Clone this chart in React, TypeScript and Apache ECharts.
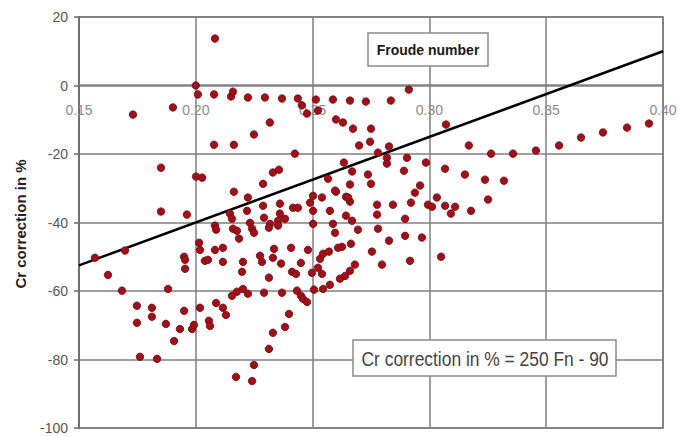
import React, { useEffect, useRef } from "react";
import * as echarts from "echarts";

const froude: number[] = [
  0.1731, 0.1902, 0.2, 0.2009, 0.2078, 0.2082, 0.2151, 0.2159, 0.2223, 0.2296,
  0.2369, 0.2437, 0.2454, 0.2476, 0.2514, 0.2523, 0.2587, 0.266, 0.2728, 0.2835,
  0.2912, 0.2317, 0.2249, 0.2078, 0.2163, 0.2424, 0.26, 0.263, 0.2673, 0.275,
  0.2699, 0.2746, 0.278, 0.2827, 0.2818, 0.2818, 0.2904, 0.2985, 0.2891, 0.3071,
  0.3067, 0.2634, 0.2669, 0.2737, 0.275, 0.233, 0.2356, 0.2288, 0.2566, 0.266,
  0.26, 0.2938, 0.296, 0.3032, 0.2163, 0.2223, 0.2502, 0.3169, 0.3264, 0.3358,
  0.3456, 0.3555, 0.3649, 0.3743, 0.3846, 0.394, 0.3152, 0.3238, 0.3319, 0.3251,
  0.2643, 0.266, 0.2776, 0.2844, 0.2921, 0.2994, 0.3011, 0.3067, 0.311, 0.3092,
  0.3178, 0.2776, 0.2643, 0.2669, 0.2896, 0.2694, 0.278, 0.2827, 0.2896, 0.2968,
  0.2626, 0.2664, 0.2754, 0.2797, 0.2917, 0.305, 0.2681, 0.266, 0.2639, 0.2617,
  0.2288, 0.236, 0.2416, 0.2437, 0.2489, 0.254, 0.2596, 0.2652, 0.2574, 0.2146,
  0.2155, 0.2219, 0.2292, 0.236, 0.2352, 0.2382, 0.2502, 0.2502, 0.2232, 0.2318,
  0.2082, 0.2587, 0.1851, 0.2001, 0.2027, 0.1851, 0.1962, 0.2087, 0.2014, 0.2018,
  0.2082, 0.195, 0.1954, 0.2039, 0.2052, 0.1954, 0.1568, 0.1697, 0.1624, 0.1684,
  0.1881, 0.1748, 0.1812, 0.1812, 0.1748, 0.195, 0.2018, 0.2087, 0.1872, 0.1932,
  0.1984, 0.1992, 0.2056, 0.2061, 0.1907, 0.1761, 0.1834, 0.2116, 0.2116, 0.2159,
  0.2176, 0.2185, 0.2241, 0.2249, 0.2313, 0.2352, 0.2596, 0.2202, 0.2198, 0.2275,
  0.2283, 0.2335, 0.233, 0.2408, 0.2365, 0.245, 0.248, 0.2412, 0.2429, 0.2313,
  0.2497, 0.2532, 0.2545, 0.257, 0.2609, 0.2523, 0.254, 0.2574, 0.2545, 0.2506,
  0.2155, 0.2176, 0.2202, 0.2223, 0.2292, 0.2369, 0.2433, 0.245, 0.2459, 0.2476,
  0.2116, 0.2129, 0.2399, 0.2382, 0.233, 0.2313, 0.2249, 0.2172, 0.2241,
];

const crCorrection: number[] = [
  -8.5, -6.4, 0, -2.6, -2.6, 13.7, -3.2, -1.8, -3.5, -3.5,
  -3.8, -3.8, -5.8, -8.2, -4.1, -7.3, -4.1, -4.4, -4.7, -4.4,
  -1.2, -10.8, -14.3, -17.3, -17.3, -19.9, -9.9, -10.8, -12.6, -12.6,
  -17.5, -16.4, -19.6, -17.8, -21.1, -22.8, -21.1, -22.5, -24.9, -11.4,
  -24.3, -22.5, -25.1, -26.0, -28.7, -25.4, -24.6, -28.7, -27.2, -28.9,
  -31.0, -31.3, -29.2, -32.7, -31.0, -32.7, -32.2, -17.5, -19.9, -19.9,
  -19.0, -17.5, -15.2, -13.7, -12.3, -11.1, -26.0, -27.5, -27.8, -33.3,
  -32.5, -33.9, -34.8, -34.8, -34.2, -34.8, -35.4, -35.1, -35.4, -37.4,
  -36.6, -37.7, -38.0, -39.5, -38.9, -42.1, -41.8, -45.3, -43.9, -44.4,
  -47.1, -46.2, -48.5, -52.3, -51.2, -50.0, -52.3, -54.1, -55.6, -56.4,
  -35.1, -34.5, -35.7, -35.7, -34.2, -32.7, -30.7, -32.7, -36.6, -37.4,
  -38.9, -36.6, -38.6, -37.4, -39.5, -38.9, -36.6, -40.4, -40.1, -40.4,
  -40.9, -40.4, -24.0, -26.6, -26.9, -36.8, -37.7, -42.1, -45.9, -48.0,
  -48.0, -50.0, -50.9, -51.2, -50.9, -53.5, -50.3, -48.2, -55.3, -59.9,
  -59.4, -64.3, -64.9, -67.5, -69.3, -65.8, -64.9, -63.5, -69.6, -71.1,
  -71.1, -69.9, -68.7, -70.2, -74.6, -79.2, -79.8, -47.4, -51.5, -41.8,
  -42.4, -44.7, -41.8, -43.0, -41.5, -40.9, -43.0, -51.5, -54.4, -49.7,
  -51.5, -47.7, -50.3, -47.4, -52.0, -51.8, -48.0, -54.4, -55.0, -56.1,
  -54.7, -50.6, -49.1, -48.5, -47.4, -53.2, -55.0, -58.2, -59.4, -59.6,
  -61.4, -60.2, -59.4, -60.8, -60.5, -60.5, -59.9, -61.4, -62.3, -63.2,
  -64.9, -67.0, -66.7, -70.5, -72.2, -76.9, -81.6, -85.1, -86.3,
];

// Regression line Cr = 250 Fn - 90, endpoints
const lineFn: number[] = [0.15, 0.4];
const lineCr: number[] = [-52.5, 10];

const yTickMin = -100;
const yTickMax = 20;
const yTickStep = 20;
const xTickMin = 0.15;
const xTickMax = 0.4;
const xTickStep = 0.05;

const yTitle = "Cr correction in %";
const boxTitle = "Froude number";
const equationText = "Cr correction in % = 250 Fn - 90";

export default function App() {
  const ref = useRef<HTMLDivElement>(null);

  useEffect(() => {
    if (!ref.current) return;
    const chart = echarts.init(ref.current, undefined, { renderer: "svg" });
    const points = froude.map((f, i) => [f, crCorrection[i]]);
    const linePts = lineFn.map((f, i) => [f, lineCr[i]]);
    const gridColor = "#7f7f7f";
    chart.setOption({
      animation: false,
      backgroundColor: "#ffffff",
      grid: {
        left: 79,
        right: 18,
        top: 17,
        bottom: 9,
        outerBoundsMode: "none",
        containLabel: false,
        show: true,
        borderColor: "#6a6a6a",
        borderWidth: 1.5,
        backgroundColor: "transparent",
      },
      xAxis: {
        type: "value",
        min: xTickMin,
        max: xTickMax,
        interval: xTickStep,
        position: "bottom",
        offset: -343,
        axisLine: { show: true, onZero: false, lineStyle: { color: gridColor, width: 1.5 } },
        axisTick: { show: false },
        axisLabel: {
          color: "#8a8a8a",
          fontSize: 14,
          fontFamily: "'Liberation Sans', Arial, sans-serif",
          margin: 18,
          formatter: (v: number) => v.toFixed(2),
        },
        splitLine: { show: true, lineStyle: { color: gridColor, width: 1.5 } },
      },
      yAxis: {
        type: "value",
        min: yTickMin,
        max: yTickMax,
        interval: yTickStep,
        axisLine: { show: true, lineStyle: { color: "#6a6a6a", width: 1.5 } },
        axisTick: { show: true, length: 5, lineStyle: { color: "#6a6a6a", width: 1.5 } },
        axisLabel: {
          color: "#555555",
          fontSize: 14,
          fontFamily: "'Liberation Sans', Arial, sans-serif",
          margin: 11,
        },
        splitLine: { show: true, lineStyle: { color: gridColor, width: 1.5 } },
      },
      series: [
        {
          type: "line",
          data: linePts,
          showSymbol: false,
          symbol: "none",
          lineStyle: { color: "#000000", width: 2.5 },
          z: 3,
        },
        {
          type: "scatter",
          data: points,
          symbol: "circle",
          symbolSize: 7.5,
          itemStyle: { color: "#a0101a", borderColor: "#6e0a0f", borderWidth: 0.8, opacity: 1 },
          z: 4,
        },
      ],
      graphic: [
        {
          type: "text",
          x: 20,
          y: 224,
          rotation: Math.PI / 2,
          style: {
            text: yTitle,
            fill: "#222222",
            font: "bold 15px 'Liberation Sans', Arial, sans-serif",
            textAlign: "center",
            textVerticalAlign: "middle",
          },
        },
        {
          type: "rect",
          shape: { x: 368, y: 33, width: 120, height: 33 },
          style: { fill: "#ffffff", stroke: "#8a8a8a", lineWidth: 1.5 },
          z: 10,
        },
        {
          type: "text",
          x: 428,
          y: 50,
          style: {
            text: boxTitle,
            fill: "#1a1a1a",
            font: "bold 14px 'Liberation Sans', Arial, sans-serif",
            textAlign: "center",
            textVerticalAlign: "middle",
          },
          z: 11,
        },
        {
          type: "rect",
          shape: { x: 353, y: 340, width: 263, height: 36 },
          style: { fill: "#ffffff", stroke: "#8a8a8a", lineWidth: 1.5 },
          z: 10,
        },
        {
          type: "text",
          x: 485,
          y: 359,
          scaleX: 0.87,
          style: {
            text: equationText,
            fill: "#444444",
            font: "20px 'Liberation Sans', Arial, sans-serif",
            textAlign: "center",
            textVerticalAlign: "middle",
          },
          z: 11,
        },
      ],
    });
    return () => chart.dispose();
  }, []);

  return (
    <div
      ref={ref}
      style={{ position: "fixed", left: 0, top: 0, width: 681, height: 437, background: "#fff" }}
    />
  );
}
